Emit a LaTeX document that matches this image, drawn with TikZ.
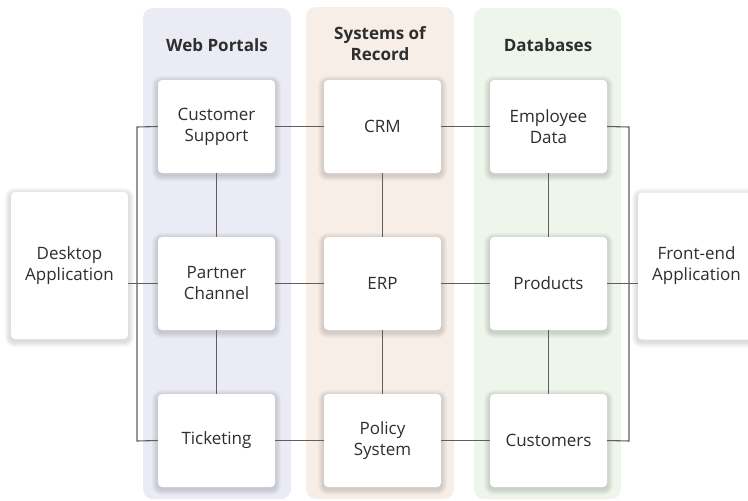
\documentclass[tikz,border=0pt]{standalone}
\usepackage{fontspec}
\setmainfont{Open Sans}
\definecolor{colA}{HTML}{EAEBF4}
\definecolor{colB}{HTML}{F8EEE8}
\definecolor{colC}{HTML}{EEF5EB}
\definecolor{txt}{HTML}{2E2E2E}
\definecolor{wire}{HTML}{5E5E5E}
\pgfdeclarelayer{back}
\pgfdeclarelayer{shade}
\pgfsetlayers{back,shade,main}
\tikzset{
  lane/.style={rounded corners=10pt, draw=none},
  card/.style={rectangle, rounded corners=4pt, fill=white, draw=none,
    minimum width=117pt, minimum height=93pt, align=center, text=txt,
    font=\fontsize{17}{21}\selectfont},
  tallcard/.style={card, minimum height=147pt},
  head/.style={align=center, text=txt, font=\fontsize{17}{21}\selectfont\bfseries},
  link/.style={draw=wire, line width=1.1pt},
  shadowpiece/.style={fill=black, fill opacity=0.022, draw=none}
}
\newcommand\softshade[1]{%
  \foreach \i in {1,...,6}{%
    \fill[shadowpiece, rounded corners=4pt+\i pt]
      ([shift={(-\i,\i+2)}]#1.south west) rectangle ([shift={(\i,-\i+2)}]#1.north east);
  }}
\begin{document}
\begin{tikzpicture}[x=1pt,y=-1pt]
\useasboundingbox (0,0) rectangle (748,501);
% lanes
\begin{pgfonlayer}{back}
\fill[lane, colA] (143,8) rectangle (291,499);
\fill[lane, colB] (306,7) rectangle (454,499);
\fill[lane, colC] (474,8) rectangle (621,499);
\end{pgfonlayer}
\node[head] (h1) at (217,45) {Web Portals};
\node[head] (h2) at (380,44) {Systems of\\Record};
\node[head] (h3) at (548,45) {Databases};
% bus corners
\coordinate (bl1) at (137,127);
\coordinate (bl3) at (137,441);
\coordinate (br1) at (629,127);
\coordinate (br3) at (629,441);
% cards
\node[card] (cs) at (216.5,126.5) {Customer\\Support};
\node[card] (pc) at (216.5,283.5) {Partner\\Channel};
\node[card] (tk) at (216.5,440.5) {Ticketing};
\node[card] (crm) at (382.5,126.5) {CRM};
\node[card] (erp) at (382.5,283.5) {ERP};
\node[card] (ps) at (382.5,440.5) {Policy\\System};
\node[card] (ed) at (548.5,126.5) {Employee\\Data};
\node[card] (pr) at (548.5,283.5) {Products};
\node[card] (cu) at (548.5,440.5) {Customers};
\node[tallcard] (desk) at (69.5,265.5) {Desktop\\Application};
\node[tallcard] (fe) at (696.5,266) {Front-end\\Application};
\begin{pgfonlayer}{shade}
\foreach \n in {cs,pc,tk,crm,erp,ps,ed,pr,cu,desk,fe}{\softshade{\n}}
\end{pgfonlayer}
% links
\draw[link] (cs.west) -- (bl1) -- (bl3) -- (tk.west);
\draw[link] (desk.east |- pc.west) -- (pc.west);
\draw[link] (cs.east) -- (crm.west);
\draw[link] (pc.east) -- (erp.west);
\draw[link] (tk.east) -- (ps.west);
\draw[link] (crm.east) -- (ed.west);
\draw[link] (erp.east) -- (pr.west);
\draw[link] (ps.east) -- (cu.west);
\draw[link] (cs.south) -- (pc.north);
\draw[link] (pc.south) -- (tk.north);
\draw[link] (crm.south) -- (erp.north);
\draw[link] (erp.south) -- (ps.north);
\draw[link] (ed.south) -- (pr.north);
\draw[link] (pr.south) -- (cu.north);
\draw[link] (ed.east) -- (br1) -- (br3) -- (cu.east);
\draw[link] (pr.east) -- (pr.east -| fe.west);
\end{tikzpicture}
\end{document}
